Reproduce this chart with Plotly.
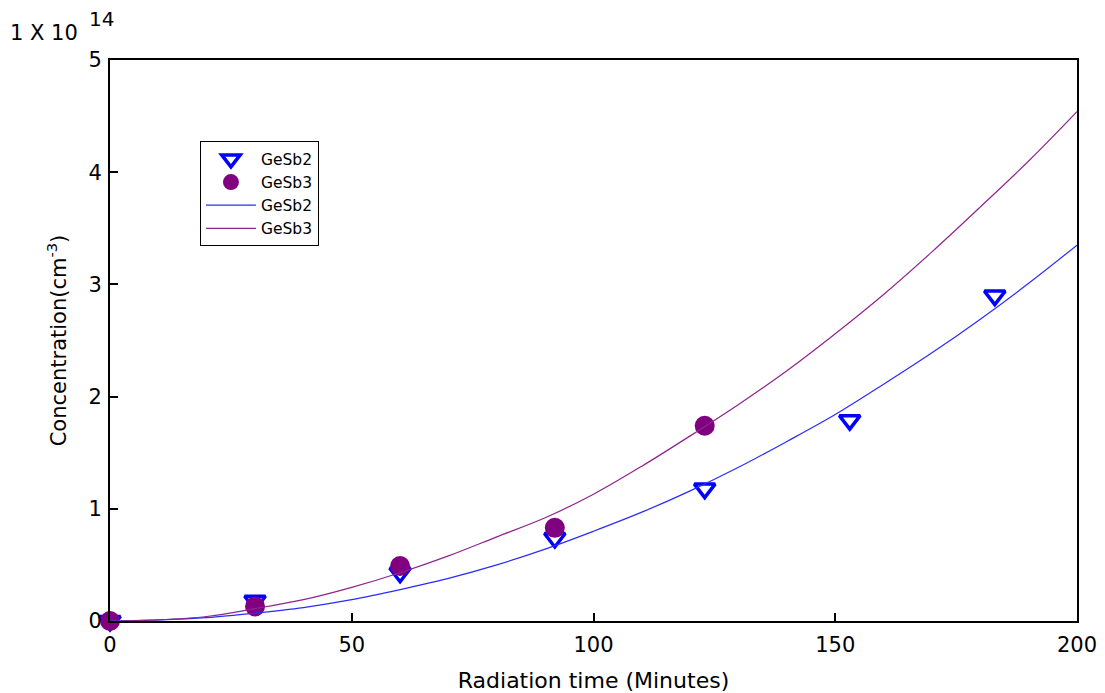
import plotly.graph_objects as go

# Measured data points
gesb2_x = [0, 30, 60, 92, 123, 153, 183]
gesb2_y = [0.0, 0.18, 0.43, 0.74, 1.18, 1.79, 2.90]

gesb3_x = [0, 30, 60, 92, 123]
gesb3_y = [0.0, 0.13, 0.49, 0.83, 1.74]

# Fitted curves
fit_x = [0, 10, 20, 30, 40, 50, 60, 70, 80, 90, 100, 110, 120, 130, 140, 150, 160, 170, 180, 190, 200]
fit2_y = [0.0, 0.01, 0.03, 0.07, 0.12, 0.19, 0.28, 0.38, 0.50, 0.64, 0.80, 0.97, 1.16, 1.37, 1.60,
          1.84, 2.11, 2.39, 2.69, 3.01, 3.35]
fit3_y = [0.0, 0.01, 0.04, 0.11, 0.19, 0.30, 0.43, 0.58, 0.75, 0.92, 1.13, 1.38, 1.65, 1.93, 2.23,
          2.56, 2.91, 3.29, 3.69, 4.10, 4.54]

x_ticks = [0, 50, 100, 150, 200]
y_ticks = [0, 1, 2, 3, 4, 5]

BLUE = "#0000FF"
PURPLE = "#800080"
FONT = "DejaVu Sans, Arial, sans-serif"

fig = go.Figure()
fig.add_trace(go.Scatter(
    x=gesb2_x, y=gesb2_y, mode="markers", name="GeSb2",
    marker=dict(symbol="triangle-down-open", size=18, color=BLUE, line=dict(width=3.5, color=BLUE)),
    cliponaxis=False,
))
fig.add_trace(go.Scatter(
    x=gesb3_x, y=gesb3_y, mode="markers", name="GeSb3",
    marker=dict(symbol="circle", size=20, color=PURPLE, line=dict(width=0)),
    cliponaxis=False,
))
fig.add_trace(go.Scatter(
    x=fit_x, y=fit2_y, mode="lines", name="GeSb2",
    line=dict(color="#2B2BFF", width=1.2, shape="spline"),
))
fig.add_trace(go.Scatter(
    x=fit_x, y=fit3_y, mode="lines", name="GeSb3",
    line=dict(color="#8E248E", width=1.2, shape="spline"),
))

axis_common = dict(
    showline=True, linecolor="black", linewidth=2, mirror=True,
    ticks="inside", ticklen=8, tickwidth=1.5, tickcolor="black",
    showgrid=False, zeroline=False, automargin=False,
    tickfont=dict(family=FONT, size=21, color="black"),
)

fig.update_xaxes(
    range=[0, 200], tickvals=x_ticks, ticklabelstandoff=4,
    title=dict(text="Radiation time (Minutes)", font=dict(family=FONT, size=22, color="black"), standoff=16),
    **axis_common,
)
fig.update_yaxes(
    range=[0, 5], tickvals=y_ticks, ticklabelstandoff=2,
    title=dict(text="Concentration(cm<sup>-3</sup>)", font=dict(family=FONT, size=21, color="black"), standoff=16),
    **axis_common,
)

fig.add_annotation(
    text="1 X 10", xref="paper", yref="paper",
    x=-0.105, y=1.049, xanchor="left", yanchor="middle", showarrow=False,
    font=dict(family=FONT, size=21, color="black"),
)
fig.add_annotation(
    text="14", xref="paper", yref="paper",
    x=-0.024, y=1.098, xanchor="left", yanchor="top", showarrow=False,
    font=dict(family=FONT, size=20, color="black"),
)

fig.update_layout(
    width=1099, height=685,
    margin=dict(l=102, r=30, t=52, b=72),
    paper_bgcolor="white", plot_bgcolor="white",
    font=dict(family=FONT, color="black"),
    legend=dict(
        x=0.093, y=0.855, xanchor="left", yanchor="top",
        bordercolor="black", borderwidth=1, bgcolor="white",
        font=dict(family=FONT, size=15.5, color="black"),
        itemsizing="trace", tracegroupgap=0, itemwidth=50,
    ),
    showlegend=True,
)

fig.write_html("out.html")
